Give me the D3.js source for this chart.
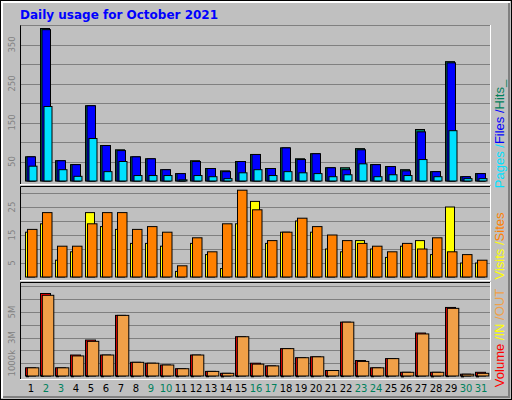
<!DOCTYPE html><html><head><script src="https://cdn.jsdelivr.net/npm/d3@7"></script>
<style>body{margin:0;background:#fff}</style></head><body><svg id="c" width="512" height="400"></svg>
<script>
const days=d3.range(1,32);
const weekend=[2,3,9,10,16,17,23,24,30,31];
const hits=[62,391,52,42,193,91,80,62,57,29,19,52,32,26,50,68,32,85,57,70,34,34,83,42,37,29,132,24,306,11,19];
const files=[62,388,52,42,193,91,78,62,57,29,19,50,32,24,50,68,32,85,55,70,34,29,80,42,37,26,126,24,303,11,19];
const pages=[38,191,29,12,109,24,50,14,14,14,3,14,11,6,21,29,14,24,21,19,11,16,44,11,16,14,55,11,129,6,6];
const visits=[16,19,6,9,23,18,17,12,12,11,2,12,8,3,19,27,12,16,20,16,10,9,13,10,7,11,13,8,25,5,5];
const sites=[17,23,11,11,19,23,23,17,18,16,4,14,9,19,31,24,13,16,21,18,15,13,12,11,9,12,10,14,9,8,6];
const volume=[0.64,6.45,0.64,1.64,2.81,1.64,4.74,1.07,1.0,0.86,0.57,1.64,0.36,0.21,3.07,1.0,0.79,2.14,1.43,1.5,0.43,4.21,1.21,0.64,1.36,0.29,3.36,0.29,5.36,0.14,0.29];
const volIn=[0.02,0.05,0.02,0.02,0.03,0.02,0.03,0.02,0.02,0.02,0.02,0.02,0.02,0.01,0.03,0.02,0.02,0.02,0.02,0.02,0.02,0.03,0.02,0.02,0.02,0.01,0.03,0.01,0.03,0.01,0.01];
const volOut=[0.64,6.31,0.64,1.57,2.71,1.64,4.74,1.07,1.0,0.86,0.57,1.64,0.36,0.21,3.07,0.93,0.79,2.14,1.43,1.5,0.43,4.21,1.14,0.64,1.36,0.29,3.29,0.29,5.29,0.14,0.21];
const topTicks=[50,150,250,350], midTicks=[5,15,25], botTicks=[[1,"1000k"],[3,"3M"],[5,"5M"]];
const svg=d3.select("#c");
svg.append("rect").attr("x",0).attr("y",0).attr("width",512).attr("height",400).attr("fill","#c0c0c0");
svg.append("rect").attr("x",0.5).attr("y",0.5).attr("width",511).attr("height",399).attr("fill","none").attr("stroke","#000");
svg.append("path").attr("d","M2,398V2H510").attr("stroke","#fff").attr("fill","none").attr("stroke-width",2);
svg.append("path").attr("d","M3,397H509V3").attr("stroke","#808080").attr("fill","none").attr("stroke-width",2);
svg.append("text").attr("x",20).attr("y",19).text("Daily usage for October 2021").attr("fill","#0000ff").attr("font-family","DejaVu Sans").attr("font-weight","bold").attr("font-size",12);
const x=d3.scaleLinear().domain([1,32]).range([25,490]);
function panel(y0,y1,max,ticks,series){
  svg.append("rect").attr("x",20).attr("y",y0).attr("width",471).attr("height",y1-y0).attr("fill","#c0c0c0");
  svg.append("path").attr("d",`M20.5,${y1}V${y0+.5}H491`).attr("stroke","#000").attr("fill","none");
  svg.append("path").attr("d",`M20,${y1+.5}H490.5V${y0}`).attr("stroke","#fff").attr("fill","none");
  const base=y1-3;
  const y=d3.scaleLinear().domain([0,max]).range([base,y0]);
  const n=Math.floor(max/ticks.step);
  for(let i=1;i<=n;i++){const yy=Math.round(y(i*ticks.step))+.5;
    svg.append("line").attr("x1",21).attr("x2",490).attr("y1",yy).attr("y2",yy).attr("stroke","#808080");}
  ticks.labels.forEach(([v,l])=>{svg.append("text").attr("transform",`translate(15,${y(v)}) rotate(-90)`).attr("text-anchor","middle").text(l).attr("fill","#808080").attr("font-family","DejaVu Sans").attr("font-size",8.5);});
  series.forEach(s=>{svg.append("g").selectAll("rect").data(s.data).join("rect")
    .attr("x",(d,i)=>x(days[i])+s.o+.5).attr("width",s.w).attr("y",d=>y(d)).attr("height",d=>Math.max(1,base-y(d)))
    .attr("fill",s.c).attr("stroke","#000").attr("stroke-width",1);});
  return y;
}
panel(25,184,400,{step:50,labels:topTicks.map(v=>[v,String(v)])},[{data:hits,c:"#00805c",o:0,w:9},{data:files,c:"#0000ff",o:1.5,w:8.5},{data:pages,c:"#00e0ff",o:3.5,w:8}]);
panel(186,280,32.5,{step:5,labels:midTicks.map(v=>[v,String(v)])},[{data:visits,c:"#ffff00",o:0,w:9},{data:sites,c:"#ff8000",o:2,w:9.5}]);
panel(282,379,7.35,{step:1,labels:botTicks},[{data:volume,c:"#ff0000",o:0,w:10},{data:volIn,c:"#ffff00",o:1,w:2},{data:volOut,c:"#f0a048",o:1.8,w:11.5}]);
svg.append("g").selectAll("text").data(days).join("text").attr("x",d=>x(d)+6).attr("y",392).attr("text-anchor","middle")
 .text(d=>d).attr("fill",d=>weekend.includes(d)?"#00805c":"#000").attr("font-family","DejaVu Sans").attr("font-size",10);
function side(yc,parts){const t=svg.append("text").attr("transform",`translate(504,${yc}) rotate(-90)`).attr("text-anchor","middle").attr("font-family","Liberation Sans").attr("font-size",13);
 parts.forEach(([s,c])=>t.append("tspan").text(s).attr("fill",c));}
side(134,[["Pages","#00e0ff"],[" /","#00e0ff"],["Files","#0000ff"],[" /","#0000ff"],["Hits_","#00805c"]]);
side(246,[["Visits","#ffff00"],[" /","#ffff00"],["Sites","#ff8000"]]);
side(338,[["Volume","#ff0000"],["  /IN","#ffff00"],["  /OUT","#f0a048"]]);
</script></body></html>
